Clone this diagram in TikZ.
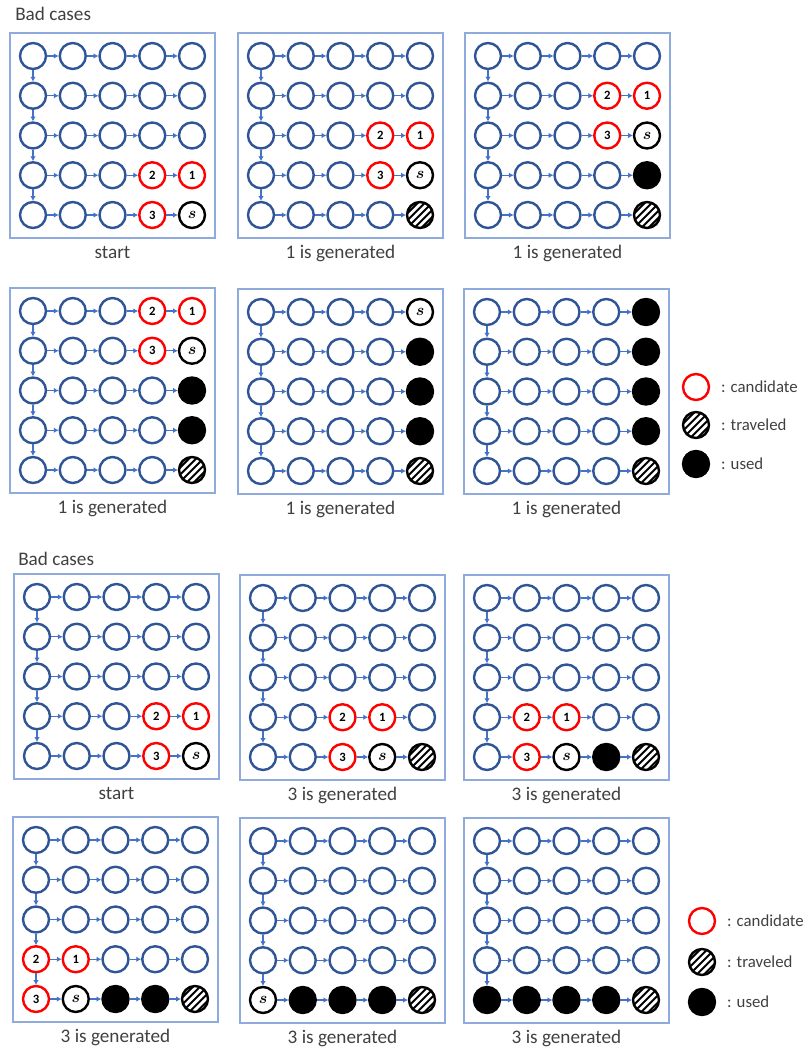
\documentclass[tikz,border=0pt]{standalone}
\usepackage{amsmath,amssymb,bm}
\usepackage{fontspec}
\setmainfont{Carlito}
\usepackage{xcolor}
\usepackage{tikz}
\usetikzlibrary{arrows.meta,positioning}

\definecolor{ringblue}{RGB}{47,85,151}
\definecolor{linkblue}{RGB}{68,114,196}
\definecolor{frameblue}{RGB}{143,170,220}
\definecolor{candred}{RGB}{255,0,0}
\definecolor{captext}{RGB}{64,64,64}

\newcommand\gridpanel[5]{%
  \node[panel] (#1) at (#2+102.5,#3+102.5) {};
  \foreach \cells [count=\row from 0] in {#5}
    \foreach \st [count=\col from 0] in \cells
      \node (#1-\row-\col) at (#2+23+39.75*\col,#3+23+39.75*\row) [st-\st];
  \foreach \row in {0,...,4}
    \foreach \col [remember=\col as \prev (initially 0)] in {1,...,4}
      \draw[link] (#1-\row-\prev) -- (#1-\row-\col);
  \foreach \row [remember=\row as \prev (initially 0)] in {1,...,4}
    \draw[link] (#1-\prev-0) -- (#1-\row-0);
  \node[caption] (#1-cap) at (#2+102.5,#3+225) {#4};
}

\begin{document}
\begin{tikzpicture}[
    x=0.75pt,y=-0.75pt,
    link/.style={-{Latex[length=3.6pt,width=4.2pt]},draw=linkblue,line width=0.8pt},
    panel/.style={draw=frameblue,line width=0.9pt,minimum size=153.75pt,inner sep=0pt,outer sep=0pt},
    cell/.style={circle,inner sep=0pt,minimum size=19.5pt,line width=1.8pt,
      font=\fontsize{9.5}{10}\selectfont},
    blank/.style={cell,draw=ringblue,fill=white},
    cand/.style={cell,draw=candred,fill=white},
    start/.style={cell,draw=black,fill=white,font=\fontsize{12}{12}\selectfont},
    used/.style={cell,draw=black,fill=black},
    hatched/.style={cell,draw=black,fill=white,path picture={
      \foreach \k in {-3,...,3}
        \draw[line width=1.5pt]
          ([shift={(\k*5.4pt-15pt,-15pt)}]path picture bounding box.center) --
          ([shift={(\k*5.4pt+15pt,15pt)}]path picture bounding box.center);}},
    st-o/.style={blank,node contents={\relax}},
    st-1/.style={cand,node contents={$\mathbf{1}$}},
    st-2/.style={cand,node contents={$\mathbf{2}$}},
    st-3/.style={cand,node contents={$\mathbf{3}$}},
    st-s/.style={start,node contents={$\bm{s}$}},
    st-t/.style={hatched,node contents={\relax}},
    st-u/.style={used,node contents={\relax}},
    caption/.style={anchor=base,text=captext,font=\fontsize{14.4}{17}\selectfont},
    title/.style={anchor=base west,text=captext,inner sep=0pt,font=\fontsize{14.4}{17}\selectfont},
    legtext/.style={text=captext,inner sep=0pt,font=\fontsize{12.6}{15}\selectfont}
  ]
  \useasboundingbox (0,0) rectangle (804,1051);

  \node[title] (topttl) at (15,20) {Bad cases};
  \gridpanel{A1}{10}{33}{start}{{o,o,o,o,o},{o,o,o,o,o},{o,o,o,o,o},{o,o,o,2,1},{o,o,o,3,s}}
  \gridpanel{A2}{238}{33}{1 is generated}{{o,o,o,o,o},{o,o,o,o,o},{o,o,o,2,1},{o,o,o,3,s},{o,o,o,o,t}}
  \gridpanel{A3}{465}{33}{1 is generated}{{o,o,o,o,o},{o,o,o,2,1},{o,o,o,3,s},{o,o,o,o,u},{o,o,o,o,t}}
  \gridpanel{A4}{10}{288}{1 is generated}{{o,o,o,2,1},{o,o,o,3,s},{o,o,o,o,u},{o,o,o,o,u},{o,o,o,o,t}}
  \gridpanel{A5}{238}{289}{1 is generated}{{o,o,o,o,s},{o,o,o,o,u},{o,o,o,o,u},{o,o,o,o,u},{o,o,o,o,t}}
  \gridpanel{A6}{464}{289}{1 is generated}{{o,o,o,o,u},{o,o,o,o,u},{o,o,o,o,u},{o,o,o,o,u},{o,o,o,o,t}}

  \node[cand] (legcandA) at (696,387) {};
  \node[legtext,right=8pt of legcandA] (legcandAtxt) {: candidate};
  \node[hatched] (legtravA) at (696,425) {};
  \node[legtext,right=8pt of legtravA] (legtravAtxt) {: traveled};
  \node[used] (legusedA) at (696,464) {};
  \node[legtext,right=8pt of legusedA] (legusedAtxt) {: used};

  \node[title] (botttl) at (18,565) {Bad cases};
  \gridpanel{B1}{14}{574}{start}{{o,o,o,o,o},{o,o,o,o,o},{o,o,o,o,o},{o,o,o,2,1},{o,o,o,3,s}}
  \gridpanel{B2}{240}{575}{3 is generated}{{o,o,o,o,o},{o,o,o,o,o},{o,o,o,o,o},{o,o,2,1,o},{o,o,3,s,t}}
  \gridpanel{B3}{464}{575}{3 is generated}{{o,o,o,o,o},{o,o,o,o,o},{o,o,o,o,o},{o,2,1,o,o},{o,3,s,u,t}}
  \gridpanel{B4}{13}{817}{3 is generated}{{o,o,o,o,o},{o,o,o,o,o},{o,o,o,o,o},{2,1,o,o,o},{3,s,u,u,t}}
  \gridpanel{B5}{240}{818}{3 is generated}{{o,o,o,o,o},{o,o,o,o,o},{o,o,o,o,o},{o,o,o,o,o},{s,u,u,u,t}}
  \gridpanel{B6}{464}{818}{3 is generated}{{o,o,o,o,o},{o,o,o,o,o},{o,o,o,o,o},{o,o,o,o,o},{u,u,u,u,t}}

  \node[cand] (legcandB) at (702,921) {};
  \node[legtext,right=8pt of legcandB] (legcandBtxt) {: candidate};
  \node[hatched] (legtravB) at (702,962) {};
  \node[legtext,right=8pt of legtravB] (legtravBtxt) {: traveled};
  \node[used] (legusedB) at (702,1002) {};
  \node[legtext,right=8pt of legusedB] (legusedBtxt) {: used};
\end{tikzpicture}
\end{document}
